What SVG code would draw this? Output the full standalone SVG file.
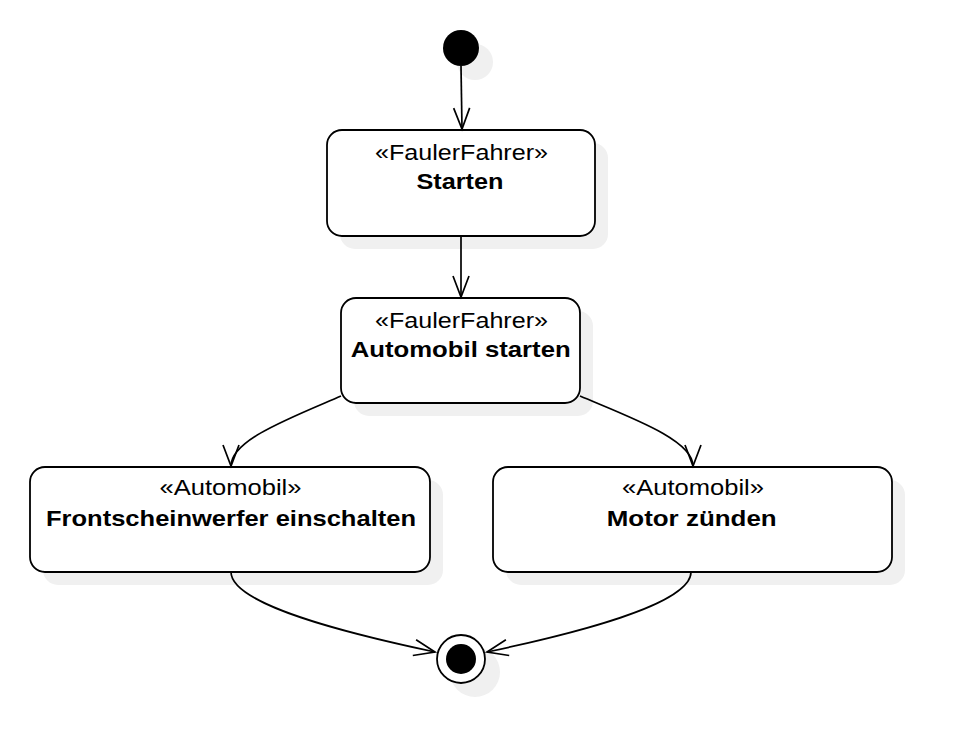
<svg xmlns="http://www.w3.org/2000/svg" width="962" height="754" viewBox="0 0 962 754">
<defs>
<style>
.shadow{fill:#f0f0f0;stroke:none}
.box{fill:#ffffff;stroke:#000000;stroke-width:1.8}
.st{font-family:"Liberation Sans",Arial,sans-serif;font-size:21.5px;fill:#000000;text-anchor:middle}
.nm{font-family:"Liberation Sans",Arial,sans-serif;font-size:21.5px;font-weight:bold;fill:#000000;text-anchor:middle}
.edge{fill:none;stroke:#000000;stroke-width:1.7;marker-end:url(#arr)}
</style>
<marker id="arr" markerUnits="userSpaceOnUse" viewBox="-24 -10 26 20" refX="0" refY="0" markerWidth="26" markerHeight="20" orient="auto" overflow="visible">
<path d="M-21,-8 L0,0 L-21,8" fill="none" stroke="#000000" stroke-width="1.7"/>
</marker>
</defs>
<rect width="962" height="754" fill="#ffffff"/>

<g id="initial">
<circle class="shadow" cx="475" cy="62" r="18"/>
<circle cx="461" cy="48" r="18" fill="#000000"/>
</g>

<g id="starten">
<rect class="shadow" x="340" y="143" width="268" height="106" rx="15"/>
<rect class="box" x="327" y="130" width="268" height="106" rx="15"/>
<text class="st" x="461.5" y="160" textLength="173" lengthAdjust="spacingAndGlyphs">«FaulerFahrer»</text>
<text class="nm" x="460" y="189" textLength="87" lengthAdjust="spacingAndGlyphs">Starten</text>
</g>

<g id="automobil_starten">
<rect class="shadow" x="354" y="311" width="239" height="105" rx="15"/>
<rect class="box" x="341" y="298" width="239" height="105" rx="15"/>
<text class="st" x="461.5" y="327.5" textLength="173" lengthAdjust="spacingAndGlyphs">«FaulerFahrer»</text>
<text class="nm" x="460.7" y="357" textLength="220" lengthAdjust="spacingAndGlyphs">Automobil starten</text>
</g>

<g id="frontscheinwerfer">
<rect class="shadow" x="43" y="480" width="400" height="105" rx="15"/>
<rect class="box" x="30" y="467" width="400" height="105" rx="15"/>
<text class="st" x="230.5" y="495" textLength="142" lengthAdjust="spacingAndGlyphs">«Automobil»</text>
<text class="nm" x="231" y="525.5" textLength="370" lengthAdjust="spacingAndGlyphs">Frontscheinwerfer einschalten</text>
</g>

<g id="motor_zuenden">
<rect class="shadow" x="506" y="480" width="399" height="105" rx="15"/>
<rect class="box" x="493" y="467" width="399" height="105" rx="15"/>
<text class="st" x="693" y="495" textLength="142" lengthAdjust="spacingAndGlyphs">«Automobil»</text>
<text class="nm" x="691.7" y="525.5" textLength="170" lengthAdjust="spacingAndGlyphs">Motor zünden</text>
</g>

<g id="final">
<circle class="shadow" cx="475" cy="672" r="25"/>
<circle cx="461" cy="659" r="24" fill="#ffffff" stroke="#000000" stroke-width="1.8"/>
<circle cx="461" cy="659" r="15" fill="#000000"/>
</g>

<g id="connectors">
<path class="edge" d="M461,66 L462,129"/>
<path class="edge" d="M461,236 L461,297"/>
<path class="edge" d="M341,396 C290,418 231,440 231,466"/>
<path class="edge" d="M580,396 C632,418 693,440 693,466"/>
<path class="edge" d="M231,572 C231,605 350,634 435,652"/>
<path class="edge" d="M691,572 C691,605 572,634 487,652"/>
</g>
</svg>
